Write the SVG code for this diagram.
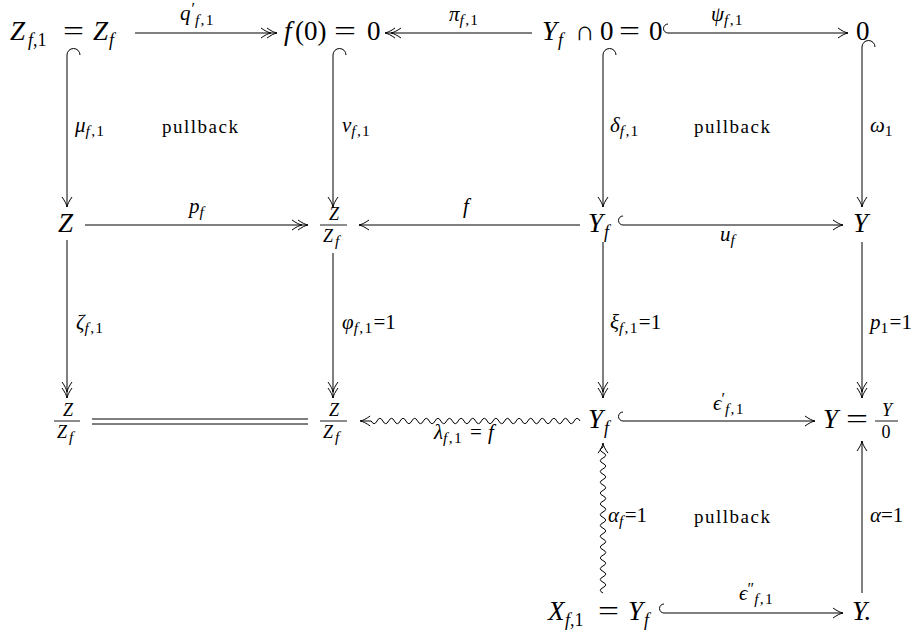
<svg xmlns="http://www.w3.org/2000/svg" width="922" height="633" viewBox="0 0 922 633">
<style>
text{font-family:"Liberation Serif","DejaVu Serif",serif;fill:#000}
.m{font-size:27px;font-style:italic}
.ms{font-size:18px;font-style:italic}
.l{font-size:21px;font-style:italic}
.ls{font-size:15.5px;font-style:italic;letter-spacing:1.3px}
.pr{font-size:16px;font-style:normal}
.up{font-style:normal}
.eq{font-size:27px;font-style:normal}
.pb{font-size:19px;font-style:normal}
.c{fill:none;stroke:#000;stroke-width:1}
.bar{stroke:#000;stroke-width:0.9}
</style>
<defs>
<marker id="a1" markerUnits="userSpaceOnUse" markerWidth="20" markerHeight="20" viewBox="-15 -10 20 20" refX="0" refY="0" orient="auto" overflow="visible">
<path d="M-10,-5 C-6,-2.2 -2.8,-0.5 0,0 C-2.8,0.5 -6,2.2 -10,5" fill="none" stroke="#000" stroke-width="1"/>
</marker>
<marker id="a2" markerUnits="userSpaceOnUse" markerWidth="20" markerHeight="20" viewBox="-15 -10 20 20" refX="0" refY="0" orient="auto" overflow="visible">
<path d="M-10,-5 C-6,-2.2 -2.8,-0.5 0,0 C-2.8,0.5 -6,2.2 -10,5 M-16,-5 C-12,-2.2 -8.8,-0.5 -6,0 C-8.8,0.5 -12,2.2 -16,5" fill="none" stroke="#000" stroke-width="1"/>
</marker>
</defs>

<g id="connectors">
<!-- row 1 -->
<path class="c" d="M135,33 H277" marker-end="url(#a2)"/>
<path class="c" d="M532,33 H385" marker-end="url(#a2)"/>
<path class="c" d="M668,24 A4.5,4.5 0 0 0 668,33 H848" marker-end="url(#a1)"/>
<!-- row 2 -->
<path class="c" d="M85,225 H308" marker-end="url(#a2)"/>
<path class="c" d="M580,225 H359" marker-end="url(#a1)"/>
<path class="c" d="M623,216 A4.5,4.5 0 0 0 623,225 H843" marker-end="url(#a1)"/>
<!-- row 3 -->
<path class="c" d="M92,419 H308 M92,424 H308"/>
<path class="c" d="M580,421 q-2.9,-5.4 -5.8,0 t-5.8,0 t-5.8,0 t-5.8,0 t-5.8,0 t-5.8,0 t-5.8,0 t-5.8,0 t-5.8,0 t-5.8,0 t-5.8,0 t-5.8,0 t-5.8,0 t-5.8,0 t-5.8,0 t-5.8,0 t-5.8,0 t-5.8,0 t-5.8,0 t-5.8,0 t-5.8,0 t-5.8,0 t-5.8,0 t-5.8,0 t-5.8,0 t-5.8,0 t-5.8,0 t-5.8,0 t-5.8,0 t-5.8,0 t-5.8,0 t-5.8,0 t-5.8,0 t-5.8,0 t-5.8,0 t-5.8,0 h-11" marker-end="url(#a1)"/>
<path class="c" d="M623,412 A4.5,4.5 0 0 0 623,421 H815" marker-end="url(#a1)"/>
<!-- row 4 -->
<path class="c" d="M664,604 A4.5,4.5 0 0 0 664,613 H843" marker-end="url(#a1)"/>
<!-- column 1 -->
<path class="c" d="M80,55 A6.5,6.5 0 0 0 67,55 V207" marker-end="url(#a1)"/>
<path class="c" d="M67,240 V398" marker-end="url(#a2)"/>
<!-- column 2 -->
<path class="c" d="M346,55 A6.5,6.5 0 0 0 333,55 V207" marker-end="url(#a1)"/>
<path class="c" d="M333,253 V398" marker-end="url(#a2)"/>
<!-- column 3 -->
<path class="c" d="M616,55 A6.5,6.5 0 0 0 603,55 V207" marker-end="url(#a1)"/>
<path class="c" d="M603,242 V398" marker-end="url(#a2)"/>
<path class="c" d="M603,593 q-5.4,-2.7 0,-5.4 t0,-5.4 t0,-5.4 t0,-5.4 t0,-5.4 t0,-5.4 t0,-5.4 t0,-5.4 t0,-5.4 t0,-5.4 t0,-5.4 t0,-5.4 t0,-5.4 t0,-5.4 t0,-5.4 t0,-5.4 t0,-5.4 t0,-5.4 t0,-5.4 t0,-5.4 t0,-5.4 t0,-5.4 t0,-5.4 t0,-5.4 t0,-5.4 t0,-5.4 t0,-5.4 v-4" marker-end="url(#a1)"/>
<!-- column 4 -->
<path class="c" d="M875,47 A6.5,6.5 0 0 0 862,47 V207" marker-end="url(#a1)"/>
<path class="c" d="M862,242 V398" marker-end="url(#a2)"/>
<path class="c" d="M862,593 V441" marker-end="url(#a1)"/>
</g>

<g id="labels">
<text class="l" x="180" y="20">q<tspan class="pr" dx="1" dy="-6">′</tspan><tspan class="ls" dx="0" dy="11">f</tspan><tspan class="ls up">,1</tspan></text>
<text class="l" x="449" y="21">π<tspan class="ls" dy="4">f</tspan><tspan class="ls up">,1</tspan></text>
<text class="l" x="711" y="21">ψ<tspan class="ls" dy="4">f</tspan><tspan class="ls up">,1</tspan></text>
<text class="l" x="75" y="132">μ<tspan class="ls" dy="4">f</tspan><tspan class="ls up">,1</tspan></text>
<text class="pb" x="162" y="133" textLength="76" lengthAdjust="spacing">pullback</text>
<text class="l" x="342" y="132">v<tspan class="ls" dy="4">f</tspan><tspan class="ls up">,1</tspan></text>
<text class="l" x="610" y="132">δ<tspan class="ls" dy="4">f</tspan><tspan class="ls up">,1</tspan></text>
<text class="pb" x="694" y="133" textLength="76" lengthAdjust="spacing">pullback</text>
<text class="l" x="870" y="132">ω<tspan class="ls up" dy="4">1</tspan></text>
<text class="l" x="189" y="213">p<tspan class="ls" dy="4">f</tspan></text>
<text class="l" x="463" y="213">f</text>
<text class="l" x="720" y="241">u<tspan class="ls" dy="4">f</tspan></text>
<text class="l" x="76" y="329">ζ<tspan class="ls" dy="4">f</tspan><tspan class="ls up">,1</tspan></text>
<text class="l" x="342" y="329">φ<tspan class="ls" dy="4">f</tspan><tspan class="ls up">,1</tspan><tspan class="up" dy="-4">=1</tspan></text>
<text class="l" x="610" y="329">ξ<tspan class="ls" dy="4">f</tspan><tspan class="ls up">,1</tspan><tspan class="up" dy="-4">=1</tspan></text>
<text class="l" x="870" y="329">p<tspan class="ls up" dy="4">1</tspan><tspan class="up" dy="-4">=1</tspan></text>
<text class="l" x="434" y="439">λ<tspan class="ls" dy="4">f</tspan><tspan class="ls up">,1</tspan><tspan class="up" x="470" y="439">=</tspan><tspan x="488" y="439">f</tspan></text>
<text class="l" x="713" y="410">ϵ<tspan class="pr" dx="0" dy="-6">′</tspan><tspan class="ls" dx="0" dy="10">f</tspan><tspan class="ls up">,1</tspan></text>
<text class="l" x="608" y="522">α<tspan class="ls" dy="4">f</tspan><tspan class="up" dy="-4">=1</tspan></text>
<text class="pb" x="694" y="523" textLength="76" lengthAdjust="spacing">pullback</text>
<text class="l" x="870" y="522">α<tspan class="up">=1</tspan></text>
<text class="l" x="739" y="600">ϵ<tspan class="pr" dx="0" dy="-6">″</tspan><tspan class="ls" dx="0" dy="10">f</tspan><tspan class="ls up">,1</tspan></text>
</g>

<g id="n-zf1"><text class="m"><tspan x="10" y="40">Z</tspan><tspan class="ms" x="28" y="46">f</tspan><tspan class="ms up">,1</tspan><tspan x="93" y="40">Z</tspan><tspan class="ms" x="109" y="46">f</tspan></text><text class="eq" x="63" y="40" textLength="21" lengthAdjust="spacingAndGlyphs">=</text></g>
<g id="n-f0"><text class="m"><tspan x="284" y="40">f</tspan><tspan class="up" x="295" y="40">(0)</tspan><tspan class="up" x="367" y="40">0</tspan></text><text class="eq" x="334" y="40" textLength="22" lengthAdjust="spacingAndGlyphs">=</text></g>
<g id="n-yf0"><text class="m"><tspan x="542" y="40">Y</tspan><tspan class="ms" x="558" y="46">f</tspan><tspan class="up" x="575" y="40">∩</tspan><tspan class="up" x="600" y="40">0</tspan><tspan class="up" x="649" y="40">0</tspan></text><text class="eq" x="619" y="40" textLength="21" lengthAdjust="spacingAndGlyphs">=</text></g>
<g id="n-0"><text class="m up" x="856" y="40">0</text></g>
<g id="n-z"><text class="m" x="58" y="232">Z</text></g>
<g id="n-zzf"><text class="ms" x="334" y="220" text-anchor="middle">Z</text><line class="bar" x1="320" y1="225" x2="347" y2="225"/><text class="ms"><tspan x="323" y="242">Z</tspan><tspan class="ls" x="335" y="246">f</tspan></text></g>
<g id="n-yf"><text class="m"><tspan x="588" y="232">Y</tspan><tspan class="ms" x="604" y="238">f</tspan></text></g>
<g id="n-y"><text class="m" x="853" y="232">Y</text></g>
<g id="n-zzf2"><text class="ms" x="68" y="416" text-anchor="middle">Z</text><line class="bar" x1="54" y1="421" x2="80" y2="421"/><text class="ms"><tspan x="57" y="438">Z</tspan><tspan class="ls" x="69" y="442">f</tspan></text></g>
<g id="n-zzf3"><text class="ms" x="334" y="416" text-anchor="middle">Z</text><line class="bar" x1="320" y1="421" x2="347" y2="421"/><text class="ms"><tspan x="323" y="438">Z</tspan><tspan class="ls" x="335" y="442">f</tspan></text></g>
<g id="n-yf2"><text class="m"><tspan x="588" y="428">Y</tspan><tspan class="ms" x="604" y="434">f</tspan></text></g>
<g id="n-yy0"><text class="m" x="823" y="428">Y</text><text class="eq" x="846" y="428" textLength="22" lengthAdjust="spacingAndGlyphs">=</text><text class="ms" x="887" y="416" text-anchor="middle">Y</text><line class="bar" x1="875" y1="421" x2="898" y2="421"/><text class="ms up" x="886" y="438" text-anchor="middle">0</text></g>
<g id="n-xf1"><text class="m"><tspan x="548" y="620">X</tspan><tspan class="ms" x="565" y="626">f</tspan><tspan class="ms up">,1</tspan><tspan x="628" y="620">Y</tspan><tspan class="ms" x="644" y="626">f</tspan></text><text class="eq" x="598" y="620" textLength="21" lengthAdjust="spacingAndGlyphs">=</text></g>
<g id="n-ydot"><text class="m" x="852" y="620">Y.</text></g>
</svg>
